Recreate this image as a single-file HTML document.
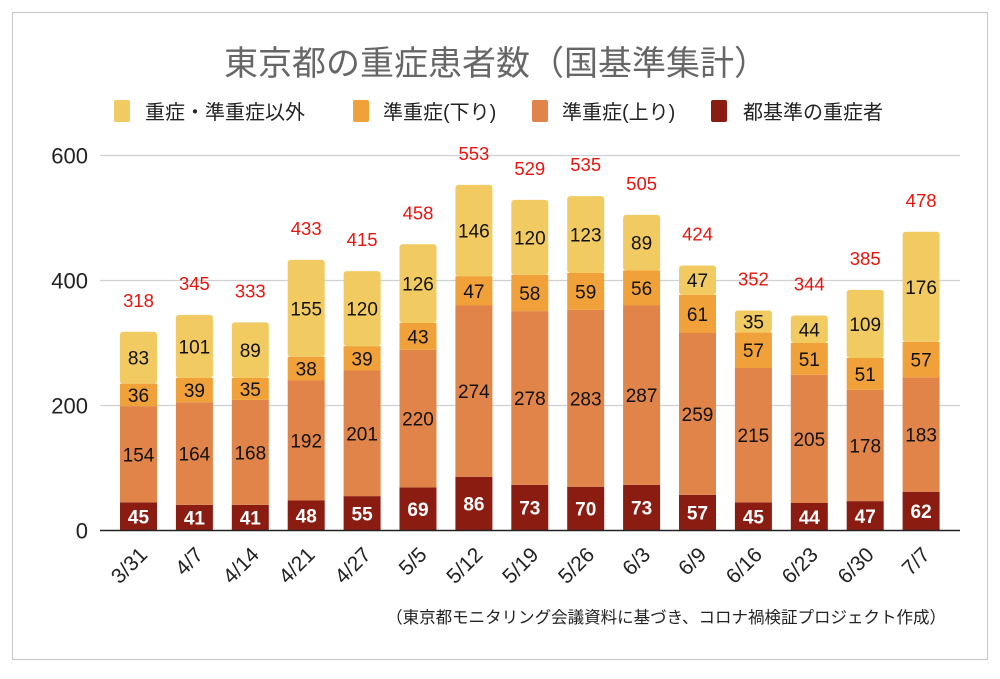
<!DOCTYPE html>
<html><head><meta charset="utf-8">
<style>
body{margin:0;background:#fff;font-family:"Liberation Sans","Noto Sans CJK JP",sans-serif;}
svg text{font-family:"Liberation Sans","Noto Sans CJK JP",sans-serif;}
</style></head>
<body>
<svg id="chart" width="1000" height="674" viewBox="0 0 1000 674" xmlns="http://www.w3.org/2000/svg">
<rect x="12.5" y="12.5" width="975" height="647" fill="#fff" stroke="#c8c8c8"/>
<text x="496" y="75" text-anchor="middle" font-size="34" fill="#666">東京都の重症患者数（国基準集計）</text>
<g>
<g><rect x="114" y="100" width="16" height="22" rx="2" fill="#F1CB62"/><text x="145" y="119" font-size="20" fill="#222">重症・準重症以外</text></g>
<g><rect x="353" y="100" width="16" height="22" rx="2" fill="#F0A13A"/><text x="383" y="119" font-size="20" fill="#222">準重症(下り)</text></g>
<g><rect x="532" y="100" width="16" height="22" rx="2" fill="#E0844A"/><text x="562" y="119" font-size="20" fill="#222">準重症(上り)</text></g>
<g><rect x="711" y="100" width="16" height="22" rx="2" fill="#8B1C12"/><text x="743" y="119" font-size="20" fill="#222">都基準の重症者</text></g>
</g>
<g id="grid"></g>
<g id="bars"></g>
<text x="946" y="623" text-anchor="end" font-size="16.5" fill="#222">（東京都モニタリング会議資料に基づき、コロナ禍検証プロジェクト作成）</text>
</svg>
<script>
const categories=["3/31","4/7","4/14","4/21","4/27","5/5","5/12","5/19","5/26","6/3","6/9","6/16","6/23","6/30","7/7"];
const severe=[45,41,41,48,55,69,86,73,70,73,57,45,44,47,62];
const semiUp=[154,164,168,192,201,220,274,278,283,287,259,215,205,178,183];
const semiDown=[36,39,35,38,39,43,47,58,59,56,61,57,51,51,57];
const other=[83,101,89,155,120,126,146,120,123,89,47,35,44,109,176];
const yTicks=[0,200,400,600];
const NS="http://www.w3.org/2000/svg";
const y0=530.5,pxPer=375/600,x0=138.5,step=55.9,bw=37;
const ys=v=>y0-v*pxPer, xs=i=>x0+i*step;
function mk(tag,attrs,parent,txt){const e=document.createElementNS(NS,tag);for(const k in attrs)e.setAttribute(k,attrs[k]);if(txt!==undefined)e.textContent=txt;parent.appendChild(e);return e;}
const grid=document.getElementById('grid'),bars=document.getElementById('bars');
yTicks.forEach(t=>{
 if(t>0){const l=mk('line',{x1:100,x2:960,y1:ys(t),y2:ys(t),stroke:'#d0d0d0','stroke-width':1.2},grid);
 
 }
 const tx=mk('text',{x:88,y:ys(t)+8,'text-anchor':'end','font-size':22,fill:'#222'},grid,t);
 
 
});
const series=[[severe,'#8B1C12','#fff','severe'],[semiUp,'#E0844A','#111','semi-up'],[semiDown,'#F0A13A','#111','semi-down'],[other,'#F1CB62','#111','other']];
categories.forEach((c,i)=>{
 let acc=0;const cx=xs(i);
 const g=mk('g',{},bars);
 
 
 series.forEach((s,si)=>{
  const v=s[0][i];const top=ys(acc+v),bot=ys(acc);
  const r=mk('rect',{x:cx-bw/2,y:top,width:bw,height:bot-top,fill:s[1],rx:si===3?3:0},g);
  
  
  const t=mk('text',{x:cx,y:(top+bot)/2+7,'text-anchor':'middle','font-size':19,fill:s[2],'font-weight':si===0?'bold':'normal'},g,v);
  
  
  acc+=v;
 });
 const tot=mk('text',{x:cx,y:ys(acc)-25,'text-anchor':'middle','font-size':18.5,fill:'#e8140e'},g,acc);
 
 
 const xl=mk('text',{x:cx+10,y:556,'text-anchor':'end','font-size':21,fill:'#222',transform:`rotate(-45 ${cx+10} 556)`},g,c);
 
 
});
const ax=mk('line',{x1:100,x2:960,y1:y0,y2:y0,stroke:'#222','stroke-width':1.5},bars);


</script>
</body></html>
